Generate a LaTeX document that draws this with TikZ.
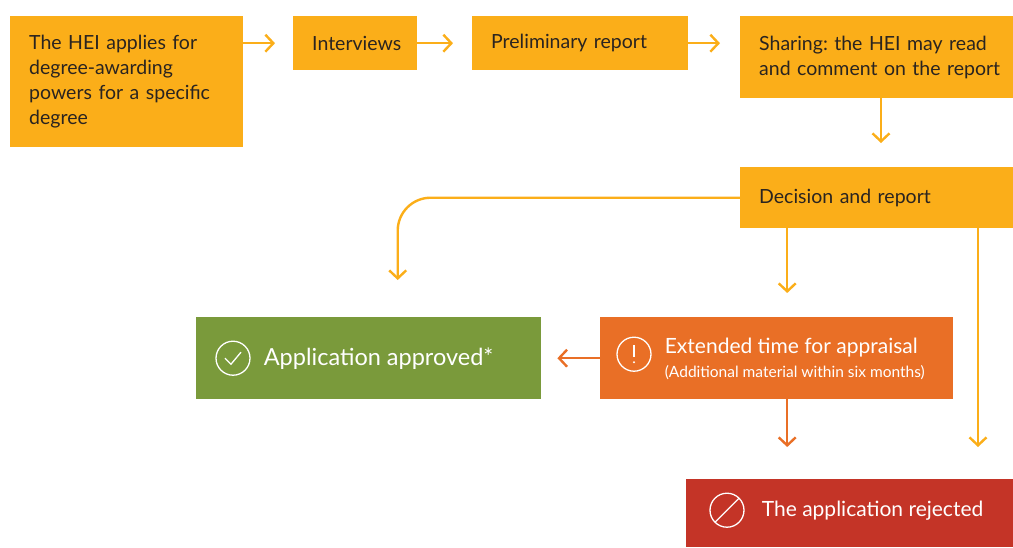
\documentclass[tikz,border=0pt]{standalone}
\usepackage{fontspec}
\setmainfont{Lato}
\frenchspacing
\usetikzlibrary{arrows.meta,positioning}
\definecolor{hiyellow}{HTML}{FBAE19}
\definecolor{higreen}{HTML}{7A9A3B}
\definecolor{hiorange}{HTML}{E96F26}
\definecolor{hired}{HTML}{C43427}
\definecolor{hitext}{HTML}{2A2420}
\tikzset{
stagebox/.style={fill=hiyellow, anchor=north west, inner xsep=19pt, inner ysep=0pt,
  align=left, text=hitext, font=\fontsize{19.5}{25}\selectfont},
endbox/.style={anchor=north west, inner sep=0pt},
endtext/.style={inner sep=0pt, text=white, align=left, font=\fontsize{21}{26}\selectfont},
icon/.style={circle, draw=white, line width=1.3pt, inner sep=0pt, minimum size=#1},
flow/.style={draw=hiyellow, line width=2.4pt, -{Straight Barb[length=8pt,width=17pt]}},
}

\begin{document}
\begin{tikzpicture}[x=1pt,y=-1pt]
\useasboundingbox (0,0) rectangle (1013,547);
% application steps
\node[stagebox, text width=195pt, minimum height=131pt] (apply) at (10,16)
  {The HEI applies for\\degree-awarding\\powers for a specific\\degree};
\node[stagebox, text width=86pt, minimum height=54pt] (interviews) at (293,16) {Interviews};
\node[stagebox, text width=178pt, minimum height=54pt] (prelim) at (472,16) {Preliminary report};
\node[stagebox, text width=254pt, minimum height=82pt] (sharing) at (740,16)
  {Sharing: the HEI may read\\and comment on the report};
\node[stagebox, text width=254pt, minimum height=61pt] (decision) at (740,167) {Decision and report};
% outcomes
\node[endbox, fill=higreen, minimum width=345pt, minimum height=82pt] (approved) at (196,317) {};
\node[endbox, fill=hiorange, minimum width=353pt, minimum height=82pt] (extended) at (600,317) {};
\node[endbox, fill=hired, minimum width=327pt, minimum height=68pt] (rejected) at (686,479) {};

\node[icon=34pt] (okicon) at ([xshift=37pt]approved.west) {};
\draw[white, line width=1.3pt] ([shift={(-8,0)}]okicon.center) -- ([shift={(-2,6)}]okicon.center)
  -- ([shift={(8,-6)}]okicon.center);
\node[endtext, right=13pt of okicon, font=\fontsize{23.5}{28}\selectfont] (oktext) {Application approved*};

\node[icon=34pt] (waiticon) at ([shift={(34pt,4pt)}]extended.west) {};
\draw[white, line width=1.3pt] ([yshift=9pt]waiticon.center) -- ([yshift=-3pt]waiticon.center);
\fill[white] ([yshift=-8pt]waiticon.center) circle [radius=1.2pt];
\node[endtext, right=13pt of waiticon, yshift=-5pt] (waittext)
  {Extended time for appraisal\\[-2pt]{\fontsize{15.5}{18}\selectfont (Additional material within six months)}};

\node[icon=34pt] (noicon) at ([shift={(41pt,3pt)}]rejected.west) {};
\draw[white, line width=1.3pt] ([shift={(-12,12)}]noicon.center) -- ([shift={(12,-12)}]noicon.center);
\node[endtext, right=17pt of noicon] (notext) {The application rejected};

% connectors
\draw[flow, shorten >=18pt] (apply.east |- interviews.west) -- (interviews.west);
\draw[flow, shorten >=19pt] (interviews.east) -- (prelim.west);
\draw[flow, shorten >=20pt] (prelim.east) -- (sharing.west |- prelim.east);
\draw[flow, shorten >=24pt] ([xshift=141pt]sharing.south west) -- ([xshift=141pt]sharing.south west |- decision.north);
\draw[flow, rounded corners=33pt, shorten >=37pt] (decision.west) -| ([xshift=29pt]approved.north);
\draw[flow, shorten >=24pt] ([xshift=10.5pt]extended.north |- decision.south) -- ([xshift=10.5pt]extended.north);
\draw[flow, shorten >=32pt] ([xshift=238pt]decision.south west) -- ([xshift=238pt]decision.south west |- rejected.north);
\draw[flow, draw=hiorange, shorten >=16pt] (extended.west) -- (approved.east);
\draw[flow, draw=hiorange, shorten >=32pt] ([xshift=10.5pt]extended.south) -- ([xshift=10.5pt]extended.south |- rejected.north);
\end{tikzpicture}
\end{document}
